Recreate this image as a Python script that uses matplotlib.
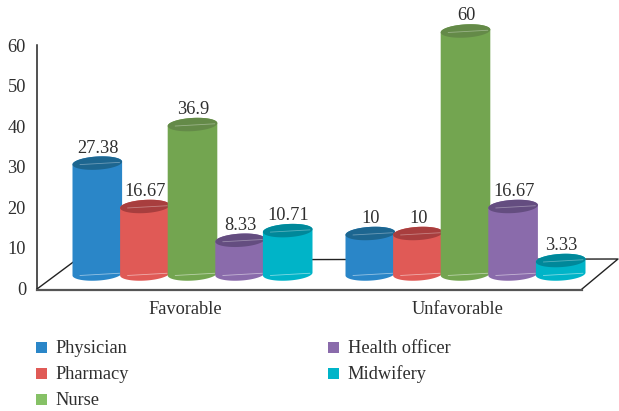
import numpy as np
from matplotlib import pyplot as plt
from matplotlib.patches import Polygon, Rectangle

categories = ["Favorable", "Unfavorable"]
professions = ["Physician", "Pharmacy", "Nurse", "Health officer", "Midwifery"]
physician = [27.38, 10]
pharmacy = [16.67, 10]
nurse = [36.9, 60]
health_officer = [8.33, 16.67]
midwifery = [10.71, 3.33]
y_ticks = [0, 10, 20, 30, 40, 50, 60]

side_colors = ["#2a86c8", "#e05a56", "#73a550", "#8a6bab", "#00b4c8"]
top_colors = ["#1d6690", "#a83e3e", "#648a48", "#644d80", "#00889a"]
legend_colors = ["#2a86c8", "#e05a56", "#86c166", "#8a6bab", "#00b4c8"]

TEXT = "#2e2e2e"
FONT_SIZE = 13.2
SCALE = 4.05       # pixels per unit on the value axis
ZERO_ROW = 288     # pixel row of value 0 at the front of the floor
DEPTH = 14 / SCALE # bars stand further back than the axis origin
HALF_W = 24.8
HALF_H = 6.6
TILT = 1.4
PITCH = 47.6
CENTERS = [192.5, 465.5]


def row(pixel_row):
    # pixel row -> value units on the y axis
    return (ZERO_ROW - pixel_row) / SCALE


def ellipse_points(cx, level, start=0, stop=2 * np.pi):
    t = np.linspace(start, stop, 80)
    x = cx + HALF_W * np.cos(t)
    y = level + (HALF_H * np.sin(t) + TILT * np.cos(t)) / SCALE
    return x, y


def highlight(ax, cx, level, alpha, z):
    # pale streak across an end cap
    x = np.array([cx - 0.7 * HALF_W, cx + 0.9 * HALF_W])
    y = level + (TILT * (x - cx) / HALF_W - 0.5) / SCALE
    ax.plot(x, y, color="white", lw=0.6, alpha=alpha, zorder=z, solid_capstyle="round")


def draw_cylinder(ax, cx, value, side, top, z):
    base = DEPTH
    level = DEPTH + value
    x_low, y_low = ellipse_points(cx, base, np.pi, 2 * np.pi)
    x_up, y_up = ellipse_points(cx, level, 0, np.pi)
    body = np.column_stack([np.r_[x_low, x_up], np.r_[y_low, y_up]])
    ax.add_patch(Polygon(body, closed=True, facecolor=side, edgecolor="none", zorder=z))
    highlight(ax, cx, base, 0.5, z)
    x_cap, y_cap = ellipse_points(cx, level)
    ax.add_patch(Polygon(np.column_stack([x_cap, y_cap]), closed=True,
                         facecolor=top, edgecolor="none", zorder=z))
    highlight(ax, cx, level, 0.35, z)
    return level


plt.rcParams["font.family"] = ["Liberation Serif", "DejaVu Serif"]
fig = plt.figure(figsize=(6.19, 4.11), dpi=100)
ax = fig.add_axes([0, 0, 1, 1])
ax.set_xlim(0, 619)
ax.set_ylim(row(411), row(0))
ax.axis("off")

# floor outline and value axis sit behind the bars
ax.plot([37, 37], [row(45), row(289)], color="#222222", lw=1.1, zorder=1)
ax.plot([37, 76, 618, 582], [row(289), row(260), row(259), row(289)],
        color="#222222", lw=1.0, zorder=1)
ax.plot([37, 582], [row(289.5), row(289.5)], color="#555555", lw=1.6, zorder=1)

for tick in y_ticks:
    ax.text(26, tick - 2 / SCALE, str(tick), ha="right", va="center",
            fontsize=FONT_SIZE, color=TEXT, zorder=50)

series = [physician, pharmacy, nurse, health_officer, midwifery]
for g, center in enumerate(CENTERS):
    for s, values in enumerate(series):
        cx = center + (s - 2) * PITCH
        level = draw_cylinder(ax, cx, values[g], side_colors[s], top_colors[s], 2 + g * 5 + s)
        ax.text(cx + 0.5, level + 15 / SCALE, f"{values[g]:g}", ha="center", va="center",
                fontsize=FONT_SIZE, color=TEXT, zorder=50)
    ax.text(center - 7.5, row(309), categories[g], ha="center", va="center",
            fontsize=FONT_SIZE, color=TEXT, zorder=50)

# legend, two columns
legend_x = [36, 36, 36, 328, 328]
legend_rows = [347, 373, 399, 347, 373]
for name, color, lx, ly in zip(professions, legend_colors, legend_x, legend_rows):
    ax.add_patch(Rectangle((lx, row(ly + 5.5)), 11, 11 / SCALE,
                           facecolor=color, edgecolor="none"))
    ax.text(lx + 19.5, row(ly + 1.5), name, ha="left", va="center", fontsize=FONT_SIZE, color=TEXT)

fig.savefig("out.png", dpi=100, facecolor="white")
